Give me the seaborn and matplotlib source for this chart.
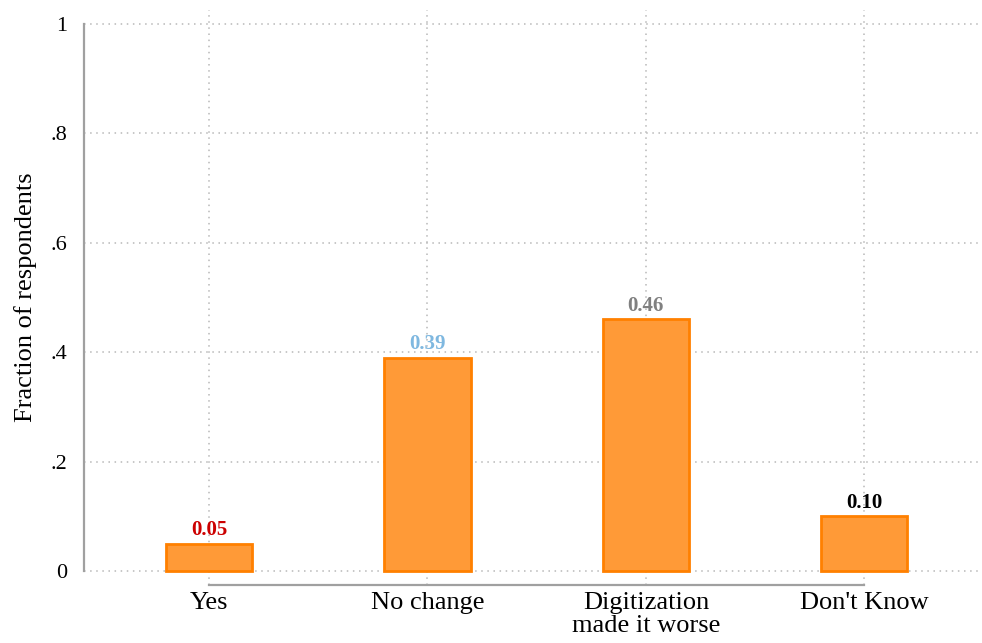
import matplotlib
matplotlib.use("Agg")
import matplotlib.pyplot as plt
import seaborn as sns
import pandas as pd

# data
categories = ["Yes", "No change", "Digitization\nmade it worse", "Don't Know"]
fractions = [0.05, 0.39, 0.46, 0.10]
label_colors = ["#cc0000", "#7fb8e0", "#808080", "#000000"]
y_ticks = [0, 0.2, 0.4, 0.6, 0.8, 1.0]
y_tick_labels = ["0", ".2", ".4", ".6", ".8", "1"]

df = pd.DataFrame({"answer": categories, "fraction": fractions})

sns.set_theme(style="white")
plt.rcParams["font.family"] = ["Liberation Serif", "DejaVu Serif"]

fig = plt.figure(figsize=(9.82, 6.43), dpi=100)
ax = fig.add_axes([0.0855, 0.0902, 0.9125, 0.8942])

sns.barplot(data=df, x="answer", y="fraction", color="#ff9a37", saturation=1,
            edgecolor="#ff8000", linewidth=2, width=0.394, ax=ax, zorder=3)

ax.set_xlim(-0.573, 3.53)
ax.set_ylim(-0.0256, 1.0256)

# dotted grid like the original
ax.set_yticks(y_ticks)
ax.set_yticklabels(y_tick_labels, fontsize=16)
ax.grid(True, axis="both", linestyle=(0, (1, 3)), color="#b8b8b8", linewidth=1.1, zorder=0)
ax.set_axisbelow(True)

for side in ["top", "right"]:
    ax.spines[side].set_visible(False)
ax.spines["left"].set_bounds(0, 1)
ax.spines["bottom"].set_bounds(0, 3)
for side in ["left", "bottom"]:
    ax.spines[side].set_color("#a0a0a0")
    ax.spines[side].set_linewidth(1.6)

ax.tick_params(axis="y", length=8, width=1.4, color="#a0a0a0", pad=4, labelcolor="black")
ax.tick_params(axis="x", length=0, pad=5, labelsize=19, labelcolor="black")
for lab in ax.get_xticklabels():
    lab.set_linespacing(1.05)

ax.set_xlabel("")
ax.set_ylabel("Fraction of respondents", fontsize=19, color="black", labelpad=10)

# value labels above bars
for i, p in enumerate(ax.patches):
    ax.annotate(f"{fractions[i]:.2f}", (p.get_x() + p.get_width() / 2., p.get_height()),
                xytext=(0, 2.5), textcoords="offset points",
                ha="center", va="bottom", fontsize=15, fontweight="bold",
                color=label_colors[i])

fig.savefig("out.png", dpi=100)
